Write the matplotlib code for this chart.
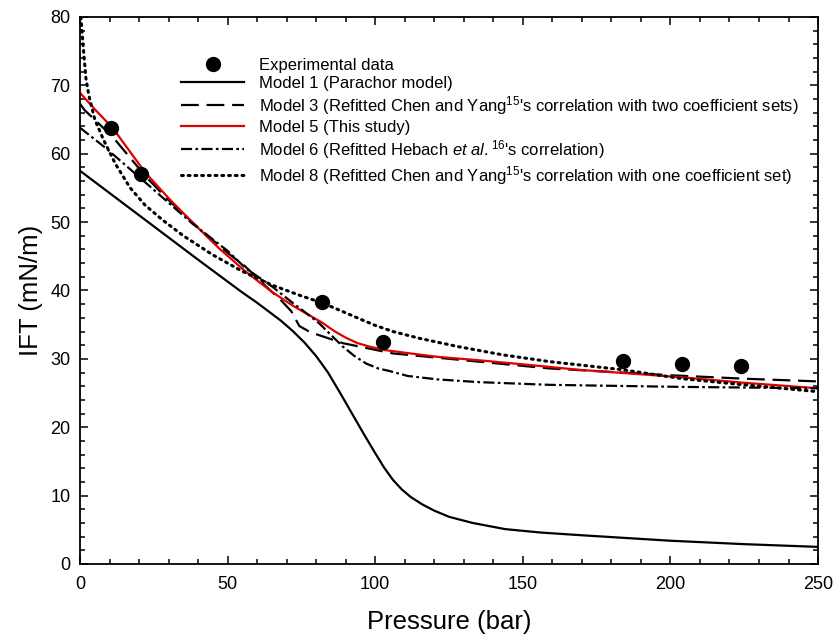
import numpy as np
import matplotlib
matplotlib.use("Agg")
import matplotlib.pyplot as plt
from matplotlib.ticker import MultipleLocator

plt.rcParams['font.family'] = ['Liberation Sans', 'DejaVu Sans']
plt.rcParams['mathtext.fontset'] = 'custom'
plt.rcParams['mathtext.rm'] = 'Liberation Sans'
plt.rcParams['mathtext.it'] = 'Liberation Sans:italic'

# experimental data
exp_p = [10.5, 20.5, 82, 102.5, 184, 204, 224]
exp_ift = [63.7, 57.0, 38.3, 32.5, 29.7, 29.3, 29.0]

# Model 1 (Parachor)
m1_p = [0, 20, 40, 50, 55, 60, 64, 68, 72, 76, 80, 84, 88, 92, 96, 100, 103, 106, 109, 112, 116, 120, 125,
        133, 144, 156, 170, 185, 200, 225, 250]
m1_ift = [57.5, 51.0, 44.5, 41.3, 39.7, 38.2, 36.9, 35.6, 34.1, 32.4, 30.4, 28.0, 25.1, 22.1, 19.1, 16.2, 14.1,
          12.3, 10.9, 9.8, 8.7, 7.8, 6.9, 6.0, 5.1, 4.6, 4.2, 3.8, 3.4, 2.9, 2.5]

# Model 3
m3_p = [0, 1.5, 11, 22.4, 30, 40, 50, 56, 63, 68, 71.5, 74.3, 78, 89, 105.9, 130, 159, 200, 225, 250]
m3_ift = [67.3, 66.4, 62.5, 56.6, 53.2, 49.2, 45.5, 43.5, 40.6, 38.6, 37.0, 34.8, 33.9, 32.3, 30.8, 29.8, 28.6,
          27.6, 27.1, 26.7]

# Model 5 (this study)
m5_p = [0, 5, 11, 22, 30, 38, 47, 56, 65, 72, 78, 82, 86, 90, 94, 98, 103, 110, 121, 135, 150, 169, 185, 204,
        225, 250]
m5_ift = [68.9, 66.5, 63.8, 57.3, 53.5, 50.0, 46.2, 42.8, 39.8, 37.8, 36.3, 35.3, 34.1, 33.1, 32.3, 31.8, 31.3,
          30.9, 30.3, 29.8, 29.2, 28.4, 27.9, 27.3, 26.5, 25.7]

# Model 6
m6_p = [0, 8.8, 22.4, 38, 50, 56, 65, 72, 76, 81, 85, 89, 93, 97, 101, 105, 111, 121, 135, 159, 204, 250]
m6_ift = [63.8, 60.8, 55.7, 49.8, 45.8, 43.3, 40.6, 38.2, 36.9, 35.2, 33.5, 31.8, 30.4, 29.3, 28.6, 28.2, 27.5,
          27.0, 26.6, 26.2, 25.9, 25.7]

# Model 8
m8_p = [0.3, 1, 2, 3, 5, 8, 12, 17, 22, 28, 35, 45, 55, 65, 75, 82, 88, 95, 100, 106, 115, 128, 143, 159, 184,
        204, 225, 250]
m8_ift = [80, 76, 71, 68.5, 65, 62, 58.5, 55, 52.5, 50.3, 48, 45.2, 42.8, 40.8, 39.2, 38.2, 37.1, 35.8, 34.9,
          34.0, 33.0, 31.8, 30.6, 29.6, 28.4, 27.1, 26.2, 25.2]

fig = plt.figure(figsize=(8.39, 6.39), dpi=100)
ax = fig.add_axes([0.0954, 0.1174, 0.8796, 0.856])

ax.plot(exp_p, exp_ift, 'o', color='black', ms=10, ls='none', label='Experimental data', zorder=5)
ax.plot(m1_p, m1_ift, color='black', lw=1.6, label='Model 1 (Parachor model)')
ax.plot(m3_p, m3_ift, color='black', lw=1.6, dashes=(8, 3.5),
        label="Model 3 (Refitted Chen and Yang$^{15}$'s correlation with two coefficient sets)")
ax.plot(m5_p, m5_ift, color='#e00000', lw=1.6, label='Model 5 (This study)')
ax.plot(m6_p, m6_ift, color='black', lw=1.6, dashes=(5, 1.5, 1.2, 1.5),
        label="Model 6 (Refitted Hebach $\\it{et\\ al.}$$^{16}$'s correlation)")
ax.plot(m8_p, m8_ift, color='black', lw=2.2, dashes=(0.6, 1.6), dash_capstyle='round',
        label="Model 8 (Refitted Chen and Yang$^{15}$'s correlation with one coefficient set)")

ax.set_xlim(0, 250)
ax.set_ylim(0, 80)
ax.xaxis.set_major_locator(MultipleLocator(50))
ax.xaxis.set_minor_locator(MultipleLocator(10))
ax.yaxis.set_major_locator(MultipleLocator(10))
ax.yaxis.set_minor_locator(MultipleLocator(2))
ax.tick_params(which='both', direction='in', top=True, right=True, labelsize=13, width=1.1)
ax.tick_params(which='major', length=6)
ax.tick_params(which='minor', length=3.5)
ax.tick_params(axis='x', which='both', pad=9)
ax.tick_params(axis='y', which='both', pad=7)
for sp in ax.spines.values():
    sp.set_linewidth(1.3)

ax.set_xlabel('Pressure (bar)', fontsize=18.5, labelpad=12)
ax.set_ylabel('IFT (mN/m)', fontsize=18.5, labelpad=5)

ax.legend(loc='upper left', bbox_to_anchor=(0.137, 0.925), frameon=False, fontsize=12,
          handlelength=3.8, handletextpad=0.9, labelspacing=0.18, borderpad=0, borderaxespad=0)

fig.savefig('out.png', dpi=100)
